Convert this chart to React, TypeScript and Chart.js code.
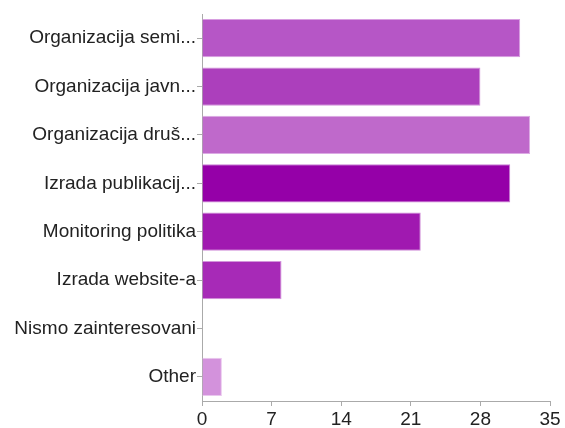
import React, { useEffect, useRef } from "react";
import { Chart, registerables } from "chart.js";

Chart.register(...registerables);

const categories = [
  "Organizacija semi...",
  "Organizacija javn...",
  "Organizacija druš...",
  "Izrada publikacij...",
  "Monitoring politika",
  "Izrada website-a",
  "Nismo zainteresovani",
  "Other",
];
const values = [32, 28, 33, 31, 22, 8, 0, 2];
const barColors = ["#b656c6", "#ac3fbc", "#bf69cb", "#9500a8", "#a019b0", "#a72ab7", "#b04cc0", "#d392dc"];
const barBorders = ["#d79ee0", "#d190da", "#dcaae4", "#c97fd4", "#cf8cd8", "#d395db", "#d9a5e2", "#e9c7ee"];
const xTicks = [0, 7, 14, 21, 28, 35];

export default function App() {
  const ref = useRef<HTMLCanvasElement | null>(null);
  useEffect(() => {
    document.body.style.margin = "0";
    const ctx = ref.current!;
    const chart = new Chart(ctx, {
      type: "bar",
      data: {
        labels: categories,
        datasets: [
          {
            data: values,
            backgroundColor: barColors,
            borderColor: barBorders,
            borderWidth: 1,
            barPercentage: 0.79,
            categoryPercentage: 1,
          },
        ],
      },
      options: {
        indexAxis: "y",
        animation: false,
        responsive: false,
        maintainAspectRatio: false,
        layout: { padding: { top: 14, right: 15, left: 0, bottom: 0 } },
        plugins: { legend: { display: false }, tooltip: { enabled: false } },
        scales: {
          x: {
            min: 0,
            max: 35,
            afterBuildTicks: (scale: any) => {
              scale.ticks = xTicks.map((v) => ({ value: v }));
            },
            afterFit: (scale: any) => {
              scale.height = 27;
            },
            grid: {
              drawOnChartArea: false,
              drawTicks: true,
              tickLength: 5,
              color: "#aaaaaa",
            },
            border: { display: true, color: "#aaaaaa", width: 1 },
            ticks: {
              color: "#222222",
              padding: 2,
              font: { family: "'Liberation Sans', Arial, sans-serif", size: 19 },
            },
          },
          y: {
            afterFit: (scale: any) => {
              scale.width = 202;
            },
            grid: {
              offset: false,
              drawOnChartArea: false,
              drawTicks: true,
              tickLength: 5,
              color: "#aaaaaa",
            },
            border: { display: true, color: "#aaaaaa", width: 1 },
            ticks: {
              color: "#222222",
              padding: 1,
              autoSkip: false,
              font: { family: "'Liberation Sans', Arial, sans-serif", size: 19 },
            },
          },
        },
      },
    });
    return () => chart.destroy();
  }, []);
  return (
    <div style={{ position: "absolute", left: 0, top: 0, width: 565, height: 428, background: "#fff" }}>
      <canvas ref={ref} width={565} height={428} style={{ width: 565, height: 428 }} />
    </div>
  );
}
